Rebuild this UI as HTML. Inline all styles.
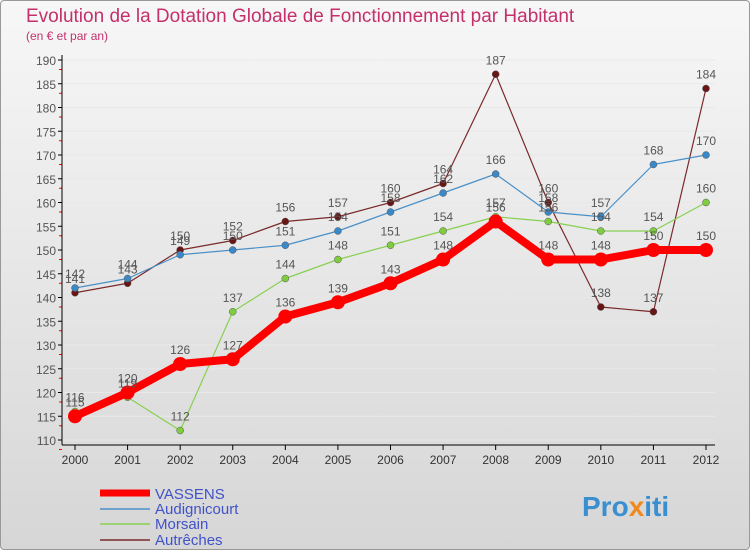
<!DOCTYPE html>
<html><head><meta charset="utf-8"><style>
body{margin:0;width:750px;height:550px;overflow:hidden;font-family:"Liberation Sans",sans-serif}
#c{position:absolute;left:0;top:0;width:748px;height:548px;border:1px solid #999;border-radius:4px;background:linear-gradient(#f7f7f7,#d6d6d6)}
</style></head><body>
<div id="c"></div>
<svg id="s" width="750" height="550" style="position:absolute;left:0;top:0" font-family="Liberation Sans, sans-serif">
<text x="26" y="22" font-size="19" fill="#c4306b">Evolution de la Dotation Globale de Fonctionnement par Habitant</text>
<text x="26" y="40" font-size="12" fill="#c4306b">(en € et par an)</text>
<g id="grid"></g><g id="axes"></g><g id="series"></g><g id="labels"></g>
<g>
<line x1="100" y1="493" x2="150" y2="493" stroke="#f00" stroke-width="7"/>
<text x="155" y="499" font-size="15" fill="#4052c8">VASSENS</text>
<line x1="100" y1="509" x2="150" y2="509" stroke="#4a90c8" stroke-width="1.5"/>
<text x="155" y="514" font-size="15" fill="#4052c8">Audignicourt</text>
<line x1="100" y1="524" x2="150" y2="524" stroke="#88d050" stroke-width="1.5"/>
<text x="155" y="529" font-size="15" fill="#4052c8">Morsain</text>
<line x1="100" y1="540" x2="150" y2="540" stroke="#7a2a2a" stroke-width="1.5"/>
<text x="155" y="545" font-size="15" fill="#4052c8">Autrêches</text>
</g>
<text x="582" y="516" font-size="28" font-weight="bold" fill="#3a8fd0">Pro<tspan fill="#f08a20">x</tspan>iti</text>
</svg>
<script>
const years=[2000,2001,2002,2003,2004,2005,2006,2007,2008,2009,2010,2011,2012];
const vassens=[115,120,126,127,136,139,143,148,156,148,148,150,150];
const audignicourt=[142,144,149,150,151,154,158,162,166,158,157,168,170];
const morsain=[116,119,112,137,144,148,151,154,157,156,154,154,160];
const autreches=[141,143,150,152,156,157,160,164,187,160,138,137,184];
const yTicks=[110,115,120,125,130,135,140,145,150,155,160,165,170,175,180,185,190];
const NS="http://www.w3.org/2000/svg";
function X(i){return 75+i*(706-75)/(years.length-1);}
function Y(v){return 440-(v-110)*4.75;}
function mk(t,a,p){const e=document.createElementNS(NS,t);for(const k in a)e.setAttribute(k,a[k]);p.appendChild(e);return e;}
const grid=document.getElementById('grid'),axes=document.getElementById('axes'),ser=document.getElementById('series'),lab=document.getElementById('labels');
yTicks.forEach(v=>{
  const g=mk('line',{x1:62,x2:715,y1:Y(v),y2:Y(v),stroke:'#e8e8e8','stroke-width':1},grid);
  
  
  mk('line',{x1:58,x2:62,y1:Y(v),y2:Y(v),stroke:'#000'},axes);
  mk('line',{x1:59,x2:62,y1:Y(v)+9.5,y2:Y(v)+9.5,stroke:'#f00'},axes);
  const t=mk('text',{x:56,y:Y(v)+5,'text-anchor':'end','font-size':12,fill:'#555'},axes);
  t.textContent=v;
  
  
});
mk('line',{x1:62,x2:62,y1:55,y2:445,stroke:'#000'},axes);
mk('line',{x1:62,x2:715,y1:445,y2:445,stroke:'#000'},axes);
years.forEach((y,i)=>{
  mk('line',{x1:X(i),x2:X(i),y1:445,y2:450,stroke:'#000'},axes);
  const t=mk('text',{x:X(i),y:464,'text-anchor':'middle','font-size':12,fill:'#333'},axes);
  t.textContent=y;
  
  
});
function draw(vals,name,color,w,r,fill){
  const pts=vals.map((v,i)=>X(i)+','+Y(v)).join(' ');
  const pl=mk('polyline',{points:pts,fill:'none',stroke:color,'stroke-width':w,'stroke-linejoin':'round'},ser);
  
  
  vals.forEach((v,i)=>{
    const c=mk('circle',{cx:X(i),cy:Y(v),r:r,fill:fill,stroke:w>3?'none':'#555','stroke-width':0.5},ser);
    
    
    const t=mk('text',{x:X(i),y:Y(v)-10,'text-anchor':'middle','font-size':12,fill:'#555'},lab);
    t.textContent=v;
    
    
  });
}
draw(autreches,'autreches','#7a2a2a',1.2,3.5,'#6a1515');
draw(morsain,'morsain','#88d050',1.2,3.5,'#80cc40');
draw(audignicourt,'audignicourt','#4a90c8',1.2,3.5,'#3a88c8');
draw(vassens,'vassens','#f00',8,7,'#f00');
</script>
</body></html>
